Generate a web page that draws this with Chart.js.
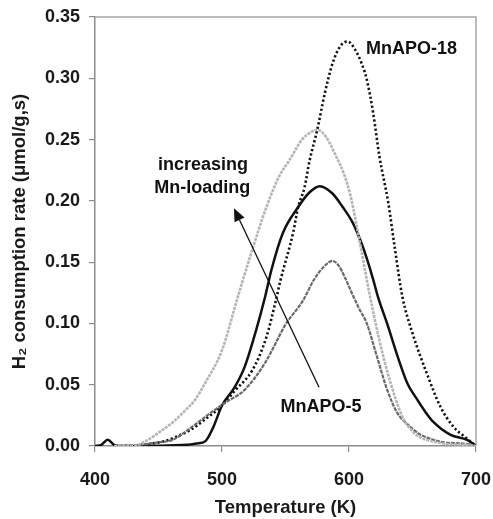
<!DOCTYPE html>
<html>
<head>
<meta charset="utf-8">
<script src="https://cdn.jsdelivr.net/npm/chart.js@4/dist/chart.umd.min.js"></script>
<style>
html,body{margin:0;padding:0;background:#fff;}
#c{display:block;}
</style>
</head>
<body>
<canvas id="c" width="493" height="519"></canvas>
<script>
// ---- data ----
const xTicks = [400, 500, 600, 700];
const yTicks = [0, 0.05, 0.10, 0.15, 0.20, 0.25, 0.30, 0.35];

// light grey curve (peak ~0.257)
const tLight = [415, 430, 440, 453, 462, 471, 479, 487, 500, 512, 522, 535, 545, 553, 563, 570, 575, 582, 590, 596, 601, 606, 610, 616, 624, 632, 642, 650, 656, 665, 675, 690, 700];
const vLight = [0, 0, 0.004, 0.013, 0.020, 0.029, 0.038, 0.052, 0.078, 0.120, 0.154, 0.195, 0.220, 0.233, 0.250, 0.256, 0.258, 0.252, 0.236, 0.222, 0.205, 0.180, 0.158, 0.125, 0.086, 0.054, 0.024, 0.012, 0.007, 0.004, 0.002, 0.001, 0];

// dark grey curve: MnAPO-5
const tApo5 = [415, 435, 450, 461, 473, 487, 502, 518, 534, 550, 564, 572, 580, 587, 592, 597, 603, 608, 614, 622, 630, 638, 648, 655, 664, 675, 690, 700];
const vApo5 = [0, 0.001, 0.003, 0.005, 0.013, 0.024, 0.035, 0.046, 0.068, 0.099, 0.119, 0.135, 0.146, 0.151, 0.147, 0.137, 0.123, 0.112, 0.100, 0.073, 0.046, 0.027, 0.016, 0.010, 0.006, 0.003, 0.002, 0];

// solid black curve (peak ~0.212)
const tSolid = [400, 405, 410, 415, 420, 473, 480, 487, 493, 500, 510, 518, 527, 534, 539, 548, 560, 569, 577, 587, 595, 603, 610, 614, 619, 623, 630, 638, 646, 653, 660, 666, 680, 693, 700];
const vSolid = [0, 0.001, 0.005, 0.001, 0, 0.001, 0.002, 0.004, 0.015, 0.033, 0.048, 0.065, 0.095, 0.122, 0.144, 0.174, 0.195, 0.207, 0.212, 0.206, 0.195, 0.182, 0.165, 0.153, 0.136, 0.121, 0.100, 0.074, 0.051, 0.039, 0.028, 0.020, 0.009, 0.005, 0];

// dotted black curve: MnAPO-18
const tApo18 = [435, 445, 455, 465, 475, 487, 500, 510, 524, 535, 542, 546, 556, 560, 565, 569, 575, 581, 587, 593, 599, 605, 610, 614, 619, 624, 631, 636, 642, 650, 661, 672, 682, 693, 700];
const vApo18 = [0, 0.002, 0.004, 0.008, 0.013, 0.022, 0.033, 0.045, 0.062, 0.089, 0.117, 0.135, 0.174, 0.195, 0.211, 0.233, 0.258, 0.288, 0.312, 0.326, 0.330, 0.323, 0.312, 0.299, 0.272, 0.236, 0.198, 0.162, 0.122, 0.092, 0.060, 0.032, 0.016, 0.006, 0];

const pts = (t, v) => t.map((x, i) => ({x: x, y: v[i]}));

const FONT = '"Liberation Sans", Arial, Helvetica, sans-serif';
const AXIS_GREY = '#8c8c8c';

const framePlugin = {
  id: 'frame',
  beforeDatasetsDraw(chart) {
    const {ctx, chartArea: a} = chart;
    ctx.save();
    ctx.strokeStyle = '#a6a6a6';
    ctx.lineWidth = 1.5;
    ctx.beginPath();
    ctx.moveTo(a.left, a.top);
    ctx.lineTo(a.right, a.top);
    ctx.lineTo(a.right, a.bottom);
    ctx.stroke();
    ctx.restore();
  }
};

const notePlugin = {
  id: 'notes',
  afterDatasetsDraw(chart) {
    const {ctx} = chart;
    const xs = chart.scales.x, ys = chart.scales.y;
    const X = v => xs.getPixelForValue(v), Y = v => ys.getPixelForValue(v);
    ctx.save();
    ctx.fillStyle = '#111';
    ctx.font = 'bold 18px ' + FONT;
    ctx.textBaseline = 'middle';
    ctx.textAlign = 'left';
    ctx.fillText('MnAPO-18', X(613.4), Y(0.324));
    ctx.textAlign = 'center';
    ctx.fillText('increasing', X(485), Y(0.229));
    ctx.fillText('Mn-loading', X(484.5), Y(0.2105));
    ctx.fillText('MnAPO-5', X(578), Y(0.032));
    // arrow
    const x0 = X(576.4), y0 = Y(0.048), x1 = X(509.4), y1 = Y(0.194);
    const ang = Math.atan2(y1 - y0, x1 - x0);
    const hl = 13, hw = 5.5;
    const bx = x1 - hl * Math.cos(ang), by = y1 - hl * Math.sin(ang);
    ctx.strokeStyle = '#111';
    ctx.lineWidth = 1.3;
    ctx.beginPath();
    ctx.moveTo(x0, y0);
    ctx.lineTo(bx, by);
    ctx.stroke();
    ctx.beginPath();
    ctx.moveTo(x1, y1);
    ctx.lineTo(bx + hw * Math.sin(ang), by - hw * Math.cos(ang));
    ctx.lineTo(bx - hw * Math.sin(ang), by + hw * Math.cos(ang));
    ctx.closePath();
    ctx.fill();
    ctx.restore();
  }
};

new Chart(document.getElementById('c'), {
  type: 'line',
  data: {
    datasets: [
      {label: 'light', data: pts(tLight, vLight), borderColor: '#b5b5b5', borderWidth: 2.6, borderDash: [3, 1]},
      {label: 'MnAPO-5', data: pts(tApo5, vApo5), borderColor: '#6a6a6a', borderWidth: 2.2, borderDash: [4, 1]},
      {label: 'MnAPO-18', data: pts(tApo18, vApo18), borderColor: '#111', borderWidth: 2.6, borderDash: [2.2, 2.4]},
      {label: 'solid', data: pts(tSolid, vSolid), borderColor: '#111', borderWidth: 2.5}
    ]
  },
  options: {
    responsive: false,
    animation: false,
    elements: {
      point: {radius: 0},
      line: {cubicInterpolationMode: 'monotone', fill: false}
    },
    layout: {padding: {top: 17, right: 17, left: 0, bottom: 0}},
    plugins: {legend: {display: false}, tooltip: {enabled: false}},
    scales: {
      x: {
        type: 'linear', min: 400, max: 700,
        afterBuildTicks: s => { s.ticks = xTicks.map(v => ({value: v})); },
        afterFit: s => { s.height = 73; s.paddingLeft = 0; s.paddingRight = 0; },
        grid: {drawOnChartArea: false, tickLength: 6, color: AXIS_GREY, lineWidth: 1.2},
        border: {color: AXIS_GREY, width: 1.5},
        ticks: {font: {family: FONT, size: 18, weight: 'bold'}, color: '#1a1a1a', padding: 17, maxRotation: 0},
        title: {display: true, text: 'Temperature (K)', font: {family: FONT, size: 18.5, weight: 'bold'}, color: '#1a1a1a', padding: {top: 0, bottom: 0}}
      },
      y: {
        type: 'linear', min: 0, max: 0.35,
        afterBuildTicks: s => { s.ticks = yTicks.map(v => ({value: v})); },
        afterFit: s => { s.width = 95; s.paddingTop = 0; s.paddingBottom = 0; },
        grid: {drawOnChartArea: false, tickLength: 6, color: AXIS_GREY, lineWidth: 1.2},
        border: {color: AXIS_GREY, width: 1.5},
        ticks: {font: {family: FONT, size: 18, weight: 'bold'}, color: '#1a1a1a', padding: 9, callback: v => v.toFixed(2)},
        title: {display: true, text: 'H\u2082 consumption rate (\u03bcmol/g,s)', font: {family: FONT, size: 18.5, weight: 'bold'}, color: '#1a1a1a', padding: {top: 9, bottom: 0}}
      }
    }
  },
  plugins: [framePlugin, notePlugin]
});
</script>
</body>
</html>
